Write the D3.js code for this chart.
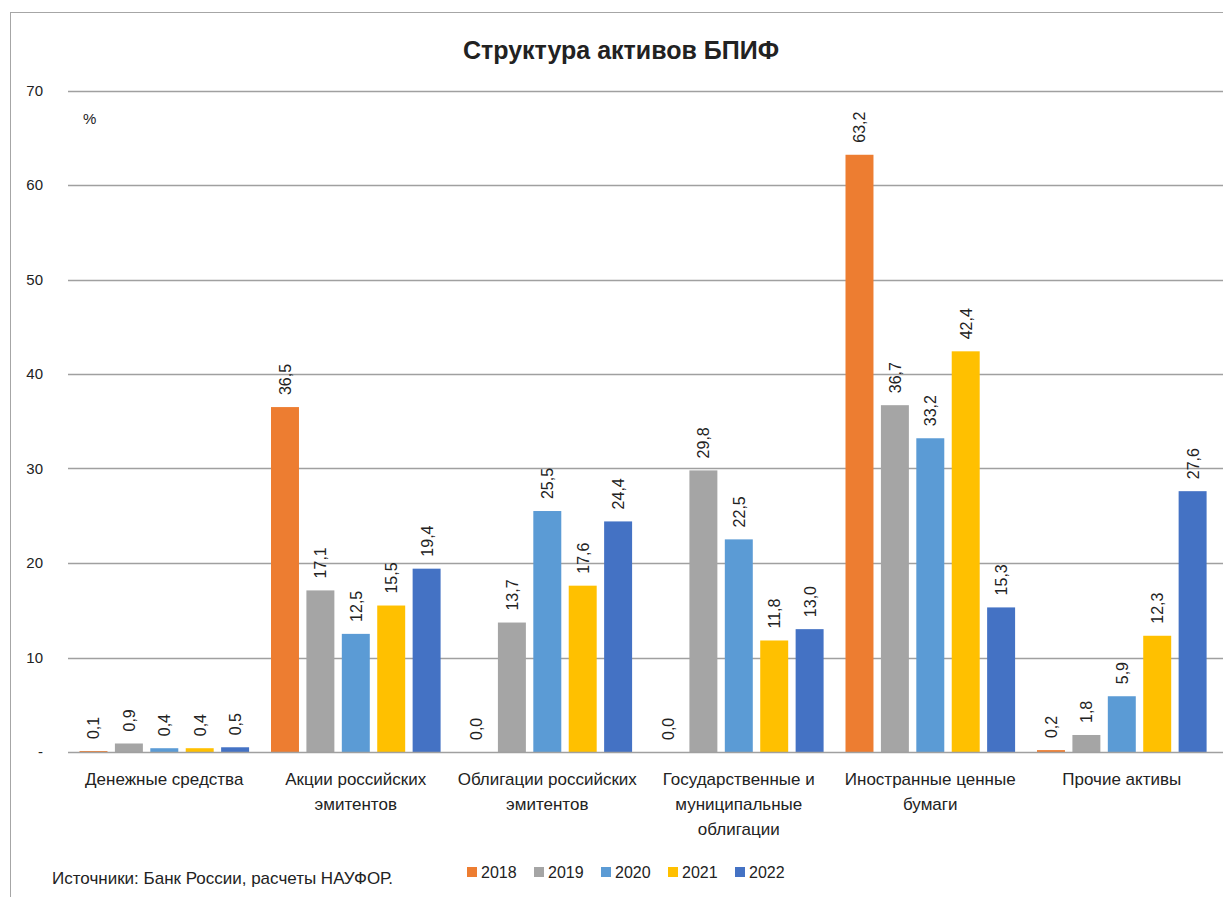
<!DOCTYPE html>
<html>
<head>
<meta charset="utf-8">
<script src="https://cdn.jsdelivr.net/npm/d3@7"></script>
<style>
  body { margin: 0; background: #fff; }
  text { font-family: "Liberation Sans", Arial, sans-serif; fill: #222; }
</style>
</head>
<body>
<div id="chart"></div>
<script>
// categories (tick labels, split into lines like in the original)
const categories = [
    ["Денежные средства"],
    ["Акции российских", "эмитентов"],
    ["Облигации российских", "эмитентов"],
    ["Государственные и", "муниципальные", "облигации"],
    ["Иностранные ценные", "бумаги"],
    ["Прочие активы"]
];
const years = ["2018", "2019", "2020", "2021", "2022"];
const yearColors = ["#ED7D31", "#A5A5A5", "#5B9BD5", "#FFC000", "#4472C4"];

// values per year, one entry per category
const v2018 = [0.1, 36.5, 0.0, 0.0, 63.2, 0.2];
const v2019 = [0.9, 17.1, 13.7, 29.8, 36.7, 1.8];
const v2020 = [0.4, 12.5, 25.5, 22.5, 33.2, 5.9];
const v2021 = [0.4, 15.5, 17.6, 11.8, 42.4, 12.3];
const v2022 = [0.5, 19.4, 24.4, 13.0, 15.3, 27.6];
const yTicks = [0, 10, 20, 30, 40, 50, 60, 70];

const series = [v2018, v2019, v2020, v2021, v2022];

let width = 1223,
    height = 897;

let svg = d3.select("#chart").append("svg")
    .attr("width", width)
    .attr("height", height);

// frame
svg.append("rect")
    .attr("x", 10.5).attr("y", 12.5)
    .attr("width", width).attr("height", height)
    .attr("fill", "none")
    .attr("stroke", "#a6a6a6");

let x0 = d3.scaleBand()
    .domain(d3.range(categories.length))
    .range([68.5, 1217.5]);

let x1 = d3.scaleBand()
    .domain(years)
    .range([11, 180.6])
    .paddingInner(0.21);

let y = d3.scaleLinear()
    .domain([0, 70])
    .range([752, 90.5]);

// gridlines
svg.append("g")
    .selectAll("line")
    .data(yTicks.filter(d => d > 0))
    .enter()
    .append("line")
    .attr("x1", 68).attr("x2", width)
    .attr("y1", d => Math.round(y(d)) + 0.5)
    .attr("y2", d => Math.round(y(d)) + 0.5)
    .attr("stroke", "#a0a0a0")
    .attr("stroke-width", 1.3);

// y axis labels ("-" for zero, excel style)
let yAxis = svg.append("g")
    .attr("transform", "translate(43,0)")
    .call(d3.axisLeft(y)
        .tickValues(yTicks)
        .tickSize(0)
        .tickPadding(0)
        .tickFormat(d => d === 0 ? "-" : d));
yAxis.select(".domain").remove();
yAxis.selectAll("text")
    .style("font-family", "'Liberation Sans', Arial, sans-serif")
    .attr("font-size", 15)
    .attr("fill", "#222");

svg.append("text")
    .attr("x", 83).attr("y", 124)
    .attr("font-size", 15)
    .text("%");

// bars
let groups = svg.append("g")
    .selectAll("g")
    .data(categories)
    .enter()
    .append("g")
    .attr("transform", (d, i) => "translate(" + x0(i) + ",0)");

groups.selectAll("rect")
    .data((d, i) => series.map((s, k) => ({year: years[k], value: s[i], color: yearColors[k]})))
    .enter()
    .append("rect")
    .attr("x", d => x1(d.year))
    .attr("width", x1.bandwidth())
    .attr("y", d => y(d.value))
    .attr("height", d => y(0) - y(d.value))
    .attr("fill", d => d.color);

// data labels, rotated
groups.selectAll("text.val")
    .data((d, i) => series.map((s, k) => ({year: years[k], value: s[i]})))
    .enter()
    .append("text")
    .attr("class", "val")
    .attr("transform", d => "translate(" + (x1(d.year) + x1.bandwidth() / 2 + 6) + "," + (y(d.value) - 12) + ") rotate(-90)")
    .attr("font-size", 16)
    .text(d => d.value.toFixed(1).replace(".", ","));

// baseline
svg.append("line")
    .attr("x1", 68).attr("x2", width)
    .attr("y1", y(0) + 0.5).attr("y2", y(0) + 0.5)
    .attr("stroke", "#a0a0a0")
    .attr("stroke-width", 1.3);

// category labels
groups.append("text")
    .attr("text-anchor", "middle")
    .attr("font-size", 17)
    .selectAll("tspan")
    .data(d => d)
    .enter()
    .append("tspan")
    .attr("x", x0.bandwidth() / 2)
    .attr("y", (d, j) => 785 + j * 25)
    .text(d => d);

// title
svg.append("text")
    .attr("x", 621).attr("y", 59)
    .attr("text-anchor", "middle")
    .attr("font-size", 25)
    .attr("font-weight", "bold")
    .attr("fill", "#000")
    .text("Структура активов БПИФ");

// source
svg.append("text")
    .attr("x", 52).attr("y", 884)
    .attr("font-size", 17)
    .text("Источники: Банк России, расчеты НАУФОР.");

// legend
let legend = svg.append("g")
    .selectAll("g")
    .data(years)
    .enter()
    .append("g")
    .attr("transform", (d, i) => "translate(" + (467 + i * 67) + ",867)");

legend.append("rect")
    .attr("width", 10).attr("height", 10)
    .attr("fill", (d, i) => yearColors[i]);

legend.append("text")
    .attr("x", 14).attr("y", 11)
    .attr("font-size", 16)
    .text(d => d);
</script>
</body>
</html>
